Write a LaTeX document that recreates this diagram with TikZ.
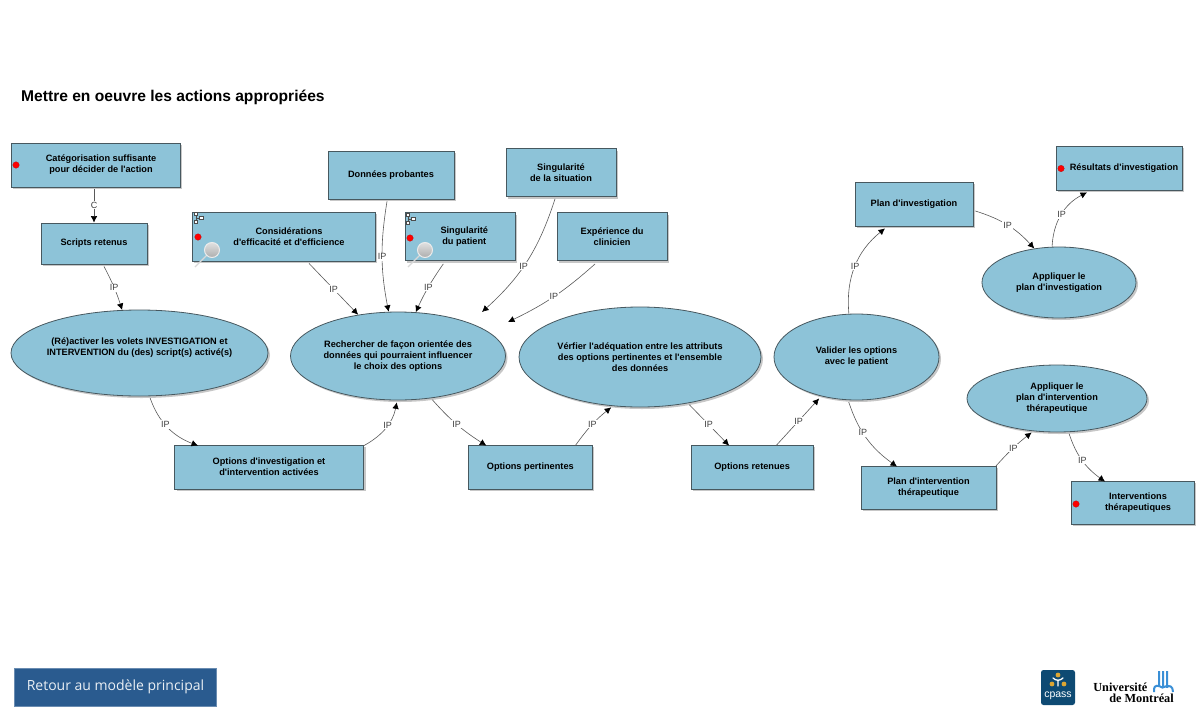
\documentclass[tikz,border=0pt]{standalone}
\usepackage{fontspec}
\newfontfamily\diagfont{Liberation Sans}
\newfontfamily\btnfont{Open Sans}
\newfontfamily\logofont{Liberation Serif}
\usepackage{tikz}
\usetikzlibrary{positioning,arrows.meta,shapes.geometric,shadows}

\definecolor{boxblue}{HTML}{8DC3D8}
\definecolor{boxline}{HTML}{47585F}
\definecolor{btnblue}{HTML}{2A5B8F}
\definecolor{cpassblue}{HTML}{0E4A73}
\definecolor{cpassgold}{HTML}{DDA633}
\definecolor{udemblue}{HTML}{3A8FD6}

\tikzset{
  loupe/.pic={
    \draw[white!85!black, line width=1.3pt] (-5,5) -- (-17,17);
    \draw[white!92!black, line width=1pt, top color=black!12, bottom color=black!32] (0,0) circle (7.5);
  },
  hier/.pic={
    \draw[black!70, line width=.5pt] (-2,-3) -- (-2,3) (-2,0) -- (3,0);
    \draw[black!70, fill=white, line width=.5pt] (-4,-5.5) rectangle (-.5,-2.5) (-4,2) rectangle (-.5,5) (1.5,-1.5) rectangle (5,1.5);
  }
}

\begin{document}
\begin{tikzpicture}[
  x=1pt, y=-1pt,
  node distance=30pt,
  shade box/.style={drop shadow={shadow xshift=2pt, shadow yshift=-2pt, fill=black, opacity=.22}},
  box/.style={draw=boxline, line width=.8pt, fill=boxblue, shade box, inner sep=0pt, align=center,
    font=\diagfont\bfseries\fontsize{9.2}{11}\selectfont},
  act/.style={box, ellipse},
  boxtxt/.style={align=center, inner sep=0pt, font=\diagfont\bfseries\fontsize{9.2}{11}\selectfont},
  dot/.style={circle, fill=red, draw=red!70!black, line width=.2pt, inner sep=0pt, minimum size=6.5pt},
  arr/.style={-{Latex[black,length=6.5pt,width=6.5pt]}, black!65, line width=.6pt},
  lnk/.style={fill=white, inner sep=1pt, text=black!75, font=\diagfont\fontsize{9}{10}\selectfont}
]
\useasboundingbox (0,0) rectangle (1200,726);

\node[anchor=west, inner sep=0pt, font=\diagfont\bfseries\fontsize{15.6}{18}\selectfont] (title) at (21,97) {Mettre en oeuvre les actions appropriées};

\node[box, minimum width=169pt, minimum height=44pt,
  label={[boxtxt, xshift=5.5pt]center:Catégorisation suffisante\\pour décider de l'action}] (categ) at (95.5,165) {};
\node[box, minimum width=106pt, minimum height=41pt] (scripts) at (94,243.5) {Scripts retenus};
\node[box, minimum width=126pt, minimum height=48pt] (donnees) at (391,175) {Données probantes};
\node[box, minimum width=110pt, minimum height=48pt] (singsit) at (561,172.5) {Singularité\\de la situation};
\node[box, minimum width=183pt, minimum height=49pt,
  label={[boxtxt, xshift=5.5pt]center:Considérations\\d'efficacité et d'efficience}] (consid) at (283.5,236.5) {};
\node[box, minimum width=110pt, minimum height=48pt, right=29.5pt of consid,
  label={[boxtxt, xshift=4pt]center:Singularité\\du patient}] (singpat) {};
\node[box, minimum width=110pt, minimum height=48pt, right=41pt of singpat] (exper) {Expérience du\\clinicien};

\node[act, minimum width=257pt, minimum height=86pt,
  label={[boxtxt, yshift=5.5pt]center:(Ré)activer les volets INVESTIGATION et\\INTERVENTION du (des) script(s) activé(s)}] (react) at (139.5,353) {};
\node[act, minimum width=215pt, minimum height=88pt] (rech) at (398,356) {Rechercher de façon orientée des\\données qui pourraient influencer\\le choix des options};
\node[act, minimum width=242pt, minimum height=100pt] (verif) at (640,357) {Vérfier l'adéquation entre les attributs\\des options pertinentes et l'ensemble\\des données};
\node[act, minimum width=165pt, minimum height=86pt] (valid) at (856.5,357) {Valider les options\\avec le patient};
\node[act, minimum width=154pt, minimum height=71pt] (appinv) at (1059,282.5) {Appliquer le\\plan d'investigation};
\node[act, minimum width=180pt, minimum height=67pt] (appint) at (1057,398.5) {Appliquer le\\plan d'intervention\\thérapeutique};

\node[box, minimum width=189pt, minimum height=44pt] (optinv) at (269,467) {Options d'investigation et\\d'intervention activées};
\node[box, minimum width=124pt, minimum height=44pt, right=104pt of optinv] (optpert) {Options pertinentes};
\node[box, minimum width=122pt, minimum height=44pt, right=98pt of optpert] (optret) {Options retenues};
\node[box, minimum width=118pt, minimum height=44pt] (planinv) at (914,204) {Plan d'investigation};
\node[box, minimum width=126pt, minimum height=44pt,
  label={[boxtxt, xshift=5pt]center:Résultats d'investigation}] (result) at (1119,168) {};
\node[box, minimum width=135pt, minimum height=43pt] (planint) at (928.5,487.5) {Plan d'intervention\\thérapeutique};
\node[box, minimum width=123pt, minimum height=43pt,
  label={[boxtxt, xshift=5.5pt]center:Interventions\\thérapeutiques}] (interv) at (1132.5,502.5) {};

\node[dot] (dotcat) at (16,165) {};
\node[dot] (dotcons) at (198,237) {};
\node[dot] (dotpat) at (410,238) {};
\node[dot] (dotres) at (1061,168.5) {};
\node[dot] (dotint) at (1076,504) {};
\pic at (198,218) {hier};
\pic at (410,219) {hier};
\pic at (212,250) {loupe};
\pic at (425,250) {loupe};

\coordinate (freesit) at (482,312);
\coordinate (freeexp) at (508,322);

\draw[arr, shorten <=2pt] (categ.south -| scripts.north) -- node[lnk] {C} (scripts.north);
\draw[arr] ([xshift=10pt, yshift=-2pt]scripts.south) to[bend left=5] node[lnk] {IP} (react.112);
\draw[arr] ([xshift=25.5pt, yshift=-2pt]consid.south) -- node[lnk] {IP} (rech.134);
\draw[arr] ([xshift=-4pt, yshift=-2pt]donnees.south) to[bend right=10] node[lnk] {IP} (rech.102);
\draw[arr] ([xshift=-17pt, yshift=-3pt]singpat.south) to[bend right=5] node[lnk] {IP} (rech.68);
\draw[arr] ([xshift=-6pt, yshift=-2pt]singsit.south) to[bend left=15] node[lnk, pos=.55] {IP} (freesit);
\draw[arr] ([xshift=-17pt, yshift=-3pt]exper.south) to[bend left=8] node[lnk] {IP} (freeexp);
\draw[arr, shorten <=2pt] (react.-77) to[bend right=25] node[lnk, pos=.45] {IP} ([xshift=-71pt, yshift=-1pt]optinv.north);
\draw[arr, shorten >=2pt] ([yshift=-1pt]optinv.north east) to[bend right=25] node[lnk, pos=.55] {IP} (rech.-91);
\draw[arr, shorten <=2pt] (rech.-52) to[bend right=8] node[lnk] {IP} ([xshift=-44pt, yshift=-1pt]optpert.north);
\draw[arr, shorten >=2pt] ([xshift=45pt, yshift=-1pt]optpert.north) to[bend left=8] node[lnk] {IP} (verif.-119);
\draw[arr, shorten <=2pt] (verif.-44) -- node[lnk] {IP} ([xshift=-23pt, yshift=-1pt]optret.north);
\draw[arr, shorten >=3pt] ([xshift=24pt, yshift=-1pt]optret.north) -- node[lnk] {IP} (valid.-132);
\draw[arr] (valid.100) to[bend left=28] node[lnk] {IP} ([xshift=-29pt, yshift=-2pt]planinv.south);
\draw[arr, shorten <=2pt] (valid.-101) to[bend right=18] node[lnk, pos=.42] {IP} ([xshift=-31.5pt, yshift=-1pt]planint.north);
\draw[arr] ([xshift=2pt, yshift=-7pt]planinv.east) to[bend left=15] node[lnk] {IP} (appinv.126);
\draw[arr] (appinv.101) to[bend left=30] node[lnk] {IP} ([xshift=-32pt, yshift=-2pt]result.south);
\draw[arr, shorten >=2pt] ([xshift=-1pt, yshift=-1pt]planint.north east) to[bend left=5] node[lnk] {IP} (appint.-126);
\draw[arr, shorten <=2pt] (appint.-71) to[bend right=18] node[lnk] {IP} ([xshift=-27.5pt, yshift=-1pt]interv.north);

\node[fill=btnblue, draw=btnblue!70!white, line width=.4pt, minimum width=202pt, minimum height=38pt, inner sep=0pt,
  text=white!90!btnblue, font=\btnfont\fontsize{14}{16}\selectfont] (retour) at (115.5,687) {Retour au modèle principal};

\node[fill=cpassblue, rounded corners=2.5pt, minimum width=34pt, minimum height=35pt] (cpassbg) at (1058,687.5) {};
\node[text=white, inner sep=0pt, font=\diagfont\fontsize{10.5}{10}\selectfont] (cpass) at (1058,696) {cpass};
\fill[cpassgold] (1058,675) circle (2.4) (1052,684) circle (2.4) (1064,684) circle (2.4);
\draw[white, line width=1.3pt, line cap=round] (1053,678) .. controls (1056,681) and (1060,681) .. (1063,678) (1058,680.5) -- (1058,686);

\node[anchor=east, inner sep=0pt, font=\logofont\bfseries\fontsize{12.3}{12}\selectfont] (udem1) at (1147.5,687) {Université};
\node[anchor=east, inner sep=0pt, font=\logofont\bfseries\fontsize{12.3}{12}\selectfont] (udem2) at (1174,698.5) {de Montréal};
\draw[udemblue, line width=2pt] (1159,671) -- (1159,687) (1163,671) -- (1163,687) (1167,671) -- (1167,687)
  (1154,692) -- (1154,689) .. controls (1154,685) and (1159,685) .. (1161,687) .. controls (1163,689) and (1165,685) .. (1167,687) .. controls (1169,685) and (1173,686) .. (1173,692);
\end{tikzpicture}
\end{document}
